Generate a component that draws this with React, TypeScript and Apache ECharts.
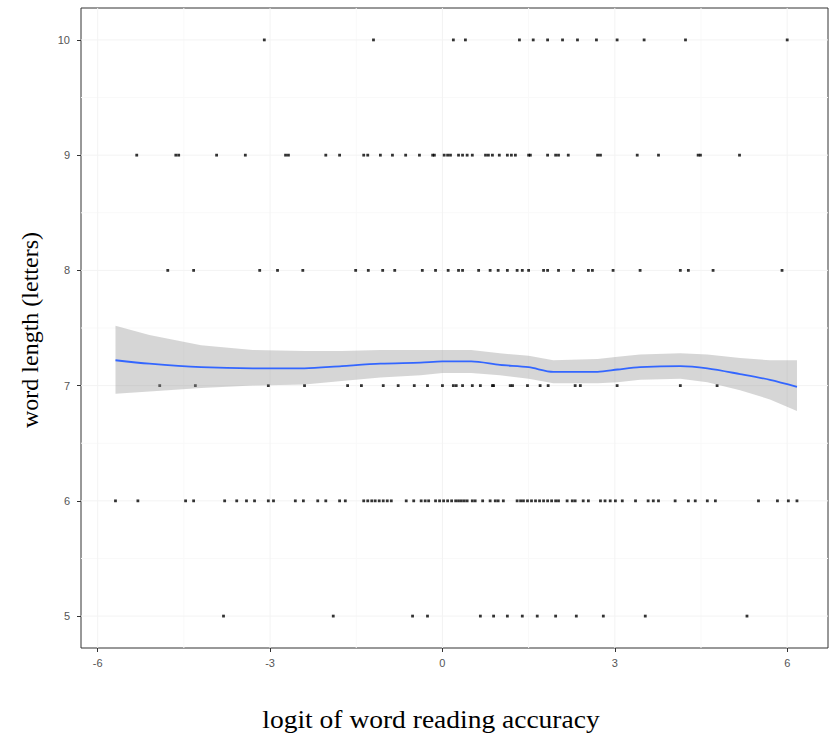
import React, { useEffect, useRef } from "react";
import * as echarts from "echarts";

// Scatter x-values (logit of word reading accuracy) for each word length
const row10: number[] = [-3.10, -1.20, 0.19, 0.40, 1.34, 1.58, 1.83, 2.09, 2.35, 2.68, 3.04, 3.51, 4.23, 6.00];
const row9: number[] = [-5.32, -4.64, -4.59, -3.93, -3.43, -2.73, -2.68, -2.03, -1.79, -1.37, -1.30, -1.08, -0.87, -0.64, -0.40, -0.17, -0.14, 0.03, 0.09, 0.14, 0.28, 0.35, 0.43, 0.52, 0.75, 0.80, 0.87, 0.99, 1.13, 1.20, 1.27, 1.50, 1.53, 1.83, 1.97, 2.02, 2.19, 2.70, 2.75, 3.39, 3.76, 4.45, 4.49, 5.17];
const row8: number[] = [-4.78, -4.33, -3.18, -2.87, -2.43, -1.51, -1.29, -1.04, -0.83, -0.35, -0.12, 0.10, 0.28, 0.35, 0.63, 0.83, 0.97, 1.13, 1.30, 1.39, 1.50, 1.76, 1.83, 2.02, 2.28, 2.54, 2.61, 2.97, 3.44, 4.14, 4.28, 4.71, 5.91];
const row7: number[] = [-4.92, -4.30, -3.03, -2.40, -1.65, -1.41, -1.03, -0.77, -0.49, -0.26, 0.00, 0.19, 0.24, 0.35, 0.52, 0.66, 0.87, 0.89, 1.18, 1.22, 1.48, 1.70, 1.84, 2.31, 2.40, 3.04, 4.14, 4.78];
const row6: number[] = [-5.69, -5.30, -4.47, -4.33, -3.79, -3.58, -3.41, -3.27, -3.03, -2.94, -2.56, -2.42, -2.17, -2.03, -1.79, -1.69, -1.37, -1.30, -1.23, -1.17, -1.10, -1.03, -0.96, -0.89, -0.63, -0.50, -0.37, -0.30, -0.24, -0.12, -0.05, 0.02, 0.09, 0.16, 0.23, 0.28, 0.33, 0.38, 0.43, 0.52, 0.57, 0.70, 0.83, 0.92, 0.97, 1.06, 1.30, 1.36, 1.41, 1.48, 1.55, 1.62, 1.69, 1.76, 1.83, 1.90, 1.97, 2.02, 2.17, 2.26, 2.31, 2.45, 2.54, 2.75, 2.83, 2.92, 3.01, 3.13, 3.36, 3.58, 3.67, 3.76, 4.05, 4.28, 4.40, 4.61, 4.75, 5.50, 5.83, 6.02, 6.17];
const row5: number[] = [-3.81, -1.90, -0.52, -0.26, 0.66, 0.89, 1.13, 1.39, 1.65, 1.97, 2.33, 2.80, 3.53, 5.30];
const wordLengths: number[] = [10, 9, 8, 7, 6, 5];

// Smoothed fit and confidence band
const fitX: number[] = [-5.69, -5.1, -4.2, -3.3, -2.4, -1.75, -1.08, -0.38, 0.0, 0.5, 1.0, 1.5, 1.93, 2.7, 3.05, 3.44, 4.14, 4.61, 5.18, 5.7, 6.17];
const fitY: number[] = [7.22, 7.19, 7.16, 7.15, 7.15, 7.17, 7.19, 7.20, 7.21, 7.21, 7.18, 7.16, 7.12, 7.12, 7.14, 7.16, 7.17, 7.15, 7.10, 7.05, 6.99];
const fitUpper: number[] = [7.52, 7.44, 7.35, 7.31, 7.30, 7.30, 7.31, 7.31, 7.31, 7.31, 7.28, 7.26, 7.22, 7.23, 7.25, 7.27, 7.28, 7.27, 7.24, 7.22, 7.22];
const fitLower: number[] = [6.93, 6.95, 6.98, 7.00, 7.01, 7.04, 7.07, 7.09, 7.11, 7.11, 7.09, 7.06, 7.02, 7.02, 7.03, 7.05, 7.06, 7.03, 6.96, 6.88, 6.78];

// Axis ticks
const xTicks: number[] = [-6, -3, 0, 3, 6];
const yTicks: number[] = [5, 6, 7, 8, 9, 10];
const xMinorGrid: number[] = [-4.5, -1.5, 1.5, 4.5];
const yMinorGrid: number[] = [5.5, 6.5, 7.5, 8.5, 9.5];

const xTitle = "logit of word reading accuracy";
const yTitle = "word length (letters)";

const X_MIN = -6.29;
const X_MAX = 6.71;
const Y_MIN = 4.723;
const Y_MAX = 10.277;

export default function App() {
  const ref = useRef<HTMLDivElement>(null);
  useEffect(() => {
    if (!ref.current) return;
    const chart = echarts.init(ref.current, null, { renderer: "svg" });
    const rows = [row10, row9, row8, row7, row6, row5];
    const points: number[][] = [];
    rows.forEach((xs, i) => xs.forEach((x) => points.push([x, wordLengths[i]])));

    // grid line items: [value, orientation (0 = vertical, 1 = horizontal), major flag]
    const gridItems: number[][] = [];
    xMinorGrid.forEach((v) => gridItems.push([v, 0, 0]));
    yMinorGrid.forEach((v) => gridItems.push([v, 1, 0]));
    xTicks.forEach((v) => gridItems.push([v, 0, 1]));
    yTicks.forEach((v) => gridItems.push([v, 1, 1]));

    const labelStyle = { color: "#555555", fontSize: 11, fontFamily: "Liberation Sans, Arial, sans-serif" };

    chart.setOption({
      animation: false,
      backgroundColor: "#ffffff",
      grid: {
        left: 81,
        right: 2,
        top: 8,
        bottom: 90,
        show: true,
        borderColor: "#333333",
        borderWidth: 1,
        backgroundColor: "transparent",
      },
      xAxis: {
        type: "value",
        min: X_MIN,
        max: X_MAX,
        splitLine: { show: false },
        axisLine: { show: false, onZero: false },
        axisTick: { show: true, customValues: xTicks, length: 4, lineStyle: { color: "#333333" } },
        axisLabel: { show: true, customValues: xTicks, margin: 9, ...labelStyle },
      },
      yAxis: {
        type: "value",
        min: Y_MIN,
        max: Y_MAX,
        splitLine: { show: false },
        axisLine: { show: false, onZero: false },
        axisTick: { show: true, customValues: yTicks, length: 4, lineStyle: { color: "#333333" } },
        axisLabel: { show: true, customValues: yTicks, margin: 11, ...labelStyle },
      },
      graphic: [
        {
          type: "text",
          x: 431,
          y: 720,
          scaleX: 1.1,
          style: {
            text: xTitle,
            fontSize: 25,
            fontFamily: "Liberation Serif, Times New Roman, serif",
            fill: "#000000",
            align: "center",
            verticalAlign: "middle",
          },
        },
        {
          type: "text",
          x: 30,
          y: 330,
          rotation: Math.PI / 2,
          style: {
            text: yTitle,
            fontSize: 24,
            fontFamily: "Liberation Serif, Times New Roman, serif",
            fill: "#000000",
            align: "center",
            verticalAlign: "middle",
          },
        },
      ],
      series: [
        {
          type: "custom",
          data: gridItems,
          silent: true,
          z: 1,
          renderItem: (params: any, api: any) => {
            const v = api.value(0);
            const horiz = api.value(1) === 1;
            const major = api.value(2) === 1;
            const a = horiz ? api.coord([X_MIN, v]) : api.coord([v, Y_MIN]);
            const b = horiz ? api.coord([X_MAX, v]) : api.coord([v, Y_MAX]);
            return {
              type: "line",
              shape: { x1: a[0], y1: a[1], x2: b[0], y2: b[1] },
              style: { stroke: major ? "#f3f3f3" : "#f9f9f9", lineWidth: 1 },
            };
          },
        },
        {
          type: "scatter",
          data: points,
          symbol: "rect",
          symbolSize: 2.8,
          itemStyle: { color: "#000000" },
          silent: true,
          z: 6,
        },
        {
          type: "custom",
          data: [[0]],
          silent: true,
          z: 7,
          renderItem: (params: any, api: any) => {
            const upper = fitX.map((x, i) => api.coord([x, fitUpper[i]]));
            const lower = fitX.map((x, i) => api.coord([x, fitLower[i]])).reverse();
            return {
              type: "polygon",
              shape: { points: upper.concat(lower) },
              style: { fill: "rgba(153,153,153,0.4)", stroke: "none" },
            };
          },
        },
        {
          type: "line",
          data: fitX.map((x, i) => [x, fitY[i]]),
          symbol: "none",
          smooth: 0.3,
          z: 8,
          lineStyle: { color: "#3366FF", width: 1.8 },
          silent: true,
        },
      ],
    });
    return () => chart.dispose();
  }, []);
  return <div ref={ref} style={{ width: 830, height: 738, position: "absolute", left: 0, top: 0 }} />;
}
